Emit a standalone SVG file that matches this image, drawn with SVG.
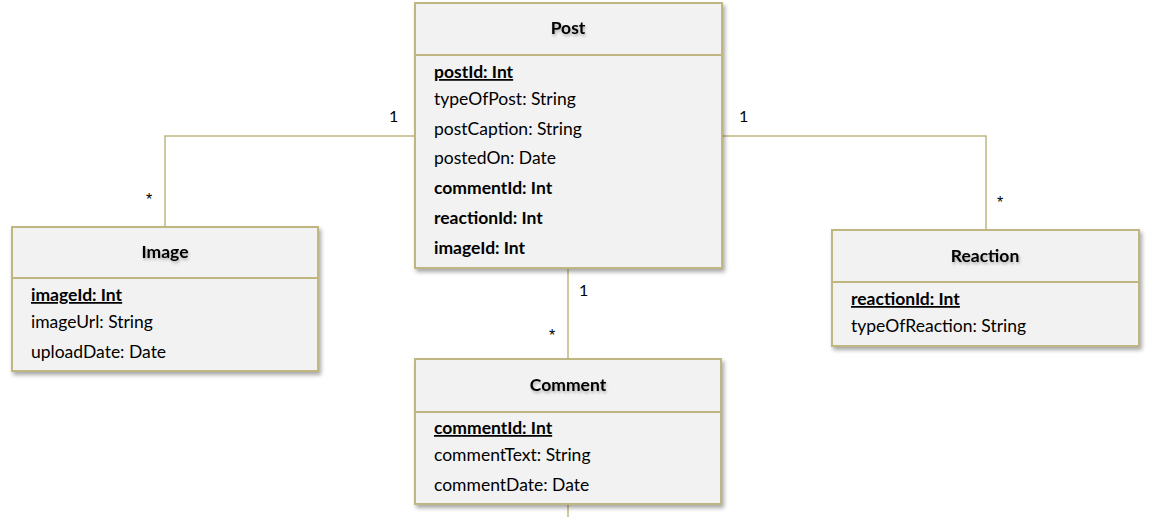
<svg xmlns="http://www.w3.org/2000/svg" width="1151" height="523" viewBox="0 0 1151 523">
<style>
.box{fill:#F2F2F2;stroke:#BFB77F;stroke-width:2}
.div{stroke:#BFB77F;stroke-width:2}
.conn{fill:none;stroke:#BFB77F;stroke-width:1.5}
text{font-family:Lato,"Open Sans","Liberation Sans",sans-serif;font-size:17.5px;fill:#000}
.title{font-weight:bold;text-anchor:middle;filter:url(#tglow)}
.b{font-weight:bold}
.u{font-weight:bold;text-decoration:underline}
.lbl{font-size:16px}
.ast{font-family:"Liberation Sans",sans-serif;font-size:16px}
</style>
<defs>
<filter id="shadow" x="-5%" y="-5%" width="115%" height="120%">
<feGaussianBlur in="SourceAlpha" stdDeviation="2"/>
<feOffset dx="2" dy="3" result="o"/>
<feComponentTransfer><feFuncA type="linear" slope="0.35"/></feComponentTransfer>
<feMerge><feMergeNode/><feMergeNode in="SourceGraphic"/></feMerge>
</filter>
<filter id="tglow" x="-20%" y="-40%" width="140%" height="200%">
<feGaussianBlur in="SourceAlpha" stdDeviation="1.5"/>
<feOffset dx="1" dy="2"/>
<feComponentTransfer><feFuncA type="linear" slope="0.3"/></feComponentTransfer>
<feMerge><feMergeNode/><feMergeNode in="SourceGraphic"/></feMerge>
</filter>
</defs>
<g id="connectors">
<polyline class="conn" points="415,136 165,136 165,227"/>
<polyline class="conn" points="722,136 986,136 986,230"/>
<line class="conn" x1="568" y1="268" x2="568" y2="359"/>
<line class="conn" x1="568" y1="504" x2="568" y2="517"/>
<text class="lbl" x="389" y="122">1</text>
<text class="ast" x="146" y="205">*</text>
<text class="lbl" x="739" y="122">1</text>
<text class="ast" x="997" y="208">*</text>
<text class="lbl" x="579" y="296">1</text>
<text class="ast" x="549" y="341">*</text>
</g>
<g id="post">
<rect class="box" x="415" y="3" width="307" height="265" filter="url(#shadow)"/>
<line class="div" x1="415" y1="55" x2="722" y2="55"/>
<text class="title" x="568" y="34">Post</text>
<text class="u" x="434" y="78">postId: Int</text>
<text x="434" y="105">typeOfPost: String</text>
<text x="434" y="135">postCaption: String</text>
<text x="434" y="164">postedOn: Date</text>
<text class="b" x="434" y="194">commentId: Int</text>
<text class="b" x="434" y="224">reactionId: Int</text>
<text class="b" x="434" y="254">imageId: Int</text>
</g>
<g id="image">
<rect class="box" x="12" y="227" width="306" height="144" filter="url(#shadow)"/>
<line class="div" x1="12" y1="278" x2="318" y2="278"/>
<text class="title" x="165" y="258">Image</text>
<text class="u" x="31" y="301">imageId: Int</text>
<text x="31" y="328">imageUrl: String</text>
<text x="31" y="358">uploadDate: Date</text>
</g>
<g id="reaction">
<rect class="box" x="832" y="230" width="307" height="116" filter="url(#shadow)"/>
<line class="div" x1="832" y1="282" x2="1139" y2="282"/>
<text class="title" x="985" y="262">Reaction</text>
<text class="u" x="851" y="305">reactionId: Int</text>
<text x="851" y="332">typeOfReaction: String</text>
</g>
<g id="comment">
<rect class="box" x="415" y="359" width="306" height="145" filter="url(#shadow)"/>
<line class="div" x1="415" y1="412" x2="721" y2="412"/>
<text class="title" x="568" y="391">Comment</text>
<text class="u" x="434" y="434">commentId: Int</text>
<text x="434" y="461">commentText: String</text>
<text x="434" y="491">commentDate: Date</text>
</g>
</svg>
